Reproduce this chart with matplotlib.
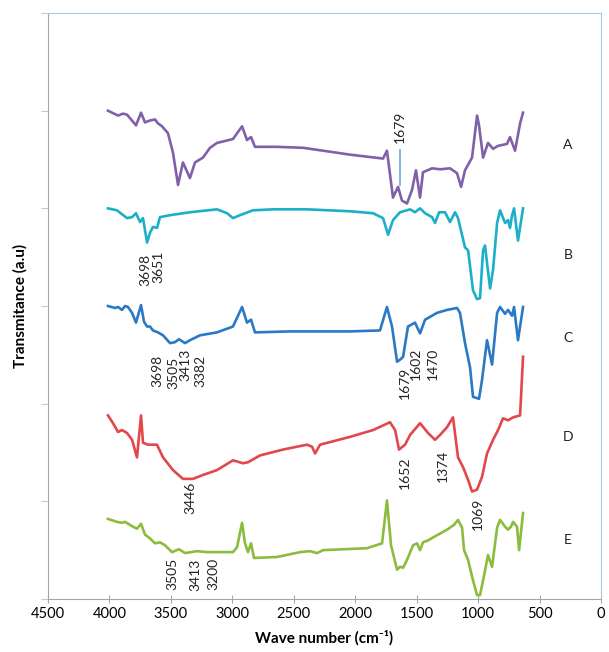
import matplotlib.pyplot as plt

plt.rcParams['font.family'] = ['Lato', 'DejaVu Sans']

# FTIR spectra (wave number in cm-1, offset transmittance in a.u.)
wn_a = [4012, 3930, 3890, 3857, 3784, 3743, 3711, 3670, 3629, 3605, 3572, 3524, 3483, 3442, 3402,
        3345, 3304, 3239, 3182, 3125, 2995, 2921, 2881, 2848, 2816, 2637, 2425, 2205, 2043, 1774,
        1742, 1693, 1652, 1620, 1579, 1538, 1506, 1473, 1449, 1375, 1310, 1229, 1172, 1139, 1107,
        1050, 1009, 993, 960, 920, 879, 838, 765, 741, 700, 659, 635]
tr_a = [5.00, 4.95, 4.97, 4.96, 4.85, 4.98, 4.88, 4.90, 4.91, 4.87, 4.84, 4.77, 4.57, 4.24, 4.47,
        4.31, 4.47, 4.52, 4.62, 4.67, 4.71, 4.84, 4.70, 4.73, 4.63, 4.63, 4.62, 4.58, 4.55, 4.51,
        4.59, 4.11, 4.22, 4.08, 4.05, 4.19, 4.39, 4.11, 4.37, 4.41, 4.40, 4.41, 4.36, 4.22, 4.39,
        4.52, 4.95, 4.85, 4.52, 4.67, 4.61, 4.64, 4.66, 4.73, 4.59, 4.87, 4.98]

wn_b = [4012, 3939, 3857, 3816, 3784, 3751, 3727, 3694, 3670, 3646, 3613, 3589, 3507, 3345, 3125,
        3043, 2995, 2938, 2832, 2669, 2393, 2043, 1855, 1774, 1733, 1693, 1636, 1554, 1514, 1473,
        1432, 1375, 1351, 1318, 1270, 1229, 1188, 1164, 1107, 1082, 1042, 1009, 985, 960, 944,
        928, 903, 879, 846, 822, 781, 757, 741, 724, 708, 676, 635]
tr_b = [4.00, 3.98, 3.90, 3.91, 3.95, 3.86, 3.90, 3.65, 3.75, 3.81, 3.80, 3.91, 3.93, 3.96, 3.99,
        3.95, 3.90, 3.93, 3.98, 3.99, 3.99, 3.97, 3.95, 3.90, 3.73, 3.88, 3.96, 3.99, 3.96, 4.00,
        3.95, 3.91, 3.85, 3.96, 3.96, 3.86, 3.96, 3.90, 3.60, 3.57, 3.16, 3.07, 3.08, 3.57, 3.62,
        3.44, 3.18, 3.37, 3.85, 3.98, 3.85, 3.88, 3.80, 3.93, 4.00, 3.67, 4.00]

wn_c = [4012, 3955, 3930, 3898, 3873, 3849, 3816, 3784, 3743, 3719, 3694, 3670, 3646, 3605, 3564,
        3507, 3467, 3434, 3385, 3345, 3263, 3125, 2995, 2921, 2881, 2848, 2816, 2531, 2262, 2043,
        1799, 1742, 1701, 1660, 1636, 1611, 1571, 1514, 1473, 1432, 1335, 1253, 1172, 1148, 1107,
        1066, 1042, 993, 969, 928, 887, 846, 822, 781, 757, 724, 708, 676, 635]
tr_c = [3.00, 2.98, 2.99, 2.96, 3.00, 2.99, 2.93, 2.83, 3.01, 2.84, 2.79, 2.79, 2.75, 2.73, 2.70,
        2.62, 2.63, 2.66, 2.62, 2.65, 2.70, 2.73, 2.79, 2.99, 2.83, 2.86, 2.73, 2.74, 2.74, 2.74,
        2.75, 2.99, 2.79, 2.43, 2.45, 2.48, 2.79, 2.83, 2.72, 2.86, 2.93, 2.96, 2.98, 2.93, 2.62,
        2.37, 2.07, 2.05, 2.24, 2.65, 2.40, 2.93, 2.99, 2.92, 2.96, 2.90, 2.99, 2.65, 2.99]

wn_d = [4012, 3971, 3930, 3898, 3857, 3816, 3776, 3743, 3727, 3686, 3613, 3564, 3483, 3402, 3320,
        3239, 3125, 2995, 2913, 2873, 2775, 2588, 2393, 2352, 2327, 2287, 2043, 1855, 1717, 1676,
        1644, 1595, 1554, 1473, 1408, 1351, 1310, 1253, 1205, 1164, 1123, 1082, 1050, 1009, 969,
        928, 879, 838, 798, 757, 716, 659, 635]
tr_d = [1.88, 1.80, 1.71, 1.73, 1.70, 1.63, 1.45, 1.88, 1.60, 1.58, 1.58, 1.45, 1.32, 1.23, 1.23,
        1.27, 1.32, 1.42, 1.39, 1.40, 1.47, 1.53, 1.58, 1.56, 1.49, 1.58, 1.66, 1.73, 1.81, 1.73,
        1.53, 1.58, 1.68, 1.80, 1.70, 1.63, 1.68, 1.76, 1.86, 1.45, 1.35, 1.22, 1.10, 1.12, 1.25,
        1.49, 1.63, 1.73, 1.85, 1.83, 1.86, 1.88, 2.48]

wn_e = [4012, 3939, 3898, 3873, 3808, 3776, 3743, 3711, 3670, 3629, 3589, 3548, 3491, 3434, 3385,
        3288, 3206, 3076, 2995, 2962, 2921, 2897, 2873, 2848, 2824, 2637, 2449, 2368, 2311, 2262,
        1904, 1782, 1742, 1709, 1660, 1636, 1611, 1579, 1530, 1497, 1473, 1449, 1408, 1367, 1253,
        1196, 1164, 1131, 1115, 1082, 1042, 1009, 985, 960, 920, 887, 846, 822, 781, 757, 733,
        716, 684, 667, 635]
tr_e = [0.82, 0.79, 0.78, 0.79, 0.74, 0.72, 0.77, 0.66, 0.62, 0.57, 0.58, 0.55, 0.48, 0.51, 0.47,
        0.49, 0.48, 0.48, 0.48, 0.53, 0.78, 0.57, 0.48, 0.57, 0.42, 0.43, 0.48, 0.49, 0.47, 0.50,
        0.52, 0.57, 1.01, 0.55, 0.30, 0.33, 0.32, 0.40, 0.55, 0.57, 0.50, 0.58, 0.60, 0.63, 0.71,
        0.76, 0.81, 0.73, 0.50, 0.40, 0.19, 0.04, 0.04, 0.19, 0.45, 0.33, 0.73, 0.81, 0.74, 0.71, 0.74,
        0.79, 0.74, 0.50, 0.88]

sample_names = ['A', 'B', 'C', 'D', 'E']
name_y = [4.65, 3.52, 2.67, 1.66, 0.60]
colors = ['#8061a9', '#1bb0c8', '#2a79c4', '#e2474b', '#8cbc3c']

# peak labels: text, wave number position, y position
peak_text = ['1679', '3698', '3651',
             '3698', '3505', '3413', '3382', '1679', '1602', '1470',
             '3446', '1652', '1374', '1069',
             '3505', '3413', '3200']
peak_x = [1636, 3711, 3605,
          3613, 3483, 3385, 3263, 1595, 1505, 1367,
          3345, 1595, 1286, 1001,
          3491, 3304, 3157]
peak_y = [4.83, 3.37, 3.40,
          2.34, 2.32, 2.40, 2.34, 2.21, 2.41, 2.41,
          1.04, 1.29, 1.36, 0.87,
          0.26, 0.25, 0.26]

fig = plt.figure(figsize=(6.09, 6.52), dpi=100)
ax = fig.add_axes([0.0788, 0.0813, 0.9082, 0.8987])

for wn, tr, c in zip([wn_a, wn_b, wn_c, wn_d, wn_e], [tr_a, tr_b, tr_c, tr_d, tr_e], colors):
    ax.plot(wn, tr, color=c, lw=1.9, solid_joinstyle='round')

# marker line for the 1679 band of A
ax.plot([1636, 1636], [4.24, 4.60], color='#6fa6dc', lw=1.2)

for t, x, y in zip(peak_text, peak_x, peak_y):
    ax.text(x, y, t, rotation=90, ha='center', va='center', fontsize=10, color='#222222')

for n, y in zip(sample_names, name_y):
    ax.text(270, y, n, ha='center', va='center', fontsize=10, color='#222222')

ax.set_xlim(4500, 0)
ax.set_ylim(0, 6)
ax.set_xticks(range(0, 4501, 500))
ax.set_yticks(range(0, 7))
ax.set_yticklabels([])
ax.tick_params(axis='x', direction='inout', length=6, color='#a6a6a6', labelsize=10.5, pad=3)
ax.tick_params(axis='y', direction='out', length=5, color='#c8c8c8')

for s in ['left', 'bottom']:
    ax.spines[s].set_color('#a6a6a6')
for s in ['top', 'right']:
    ax.spines[s].set_color('#a9c8ec')

ax.set_xlabel('Wave number (cm\u207b\u00b9)', fontsize=11, fontweight='bold', labelpad=6)
ax.set_ylabel('Transmitance (a.u)', fontsize=11, fontweight='bold', labelpad=6)

plt.savefig('out.png', dpi=100)
